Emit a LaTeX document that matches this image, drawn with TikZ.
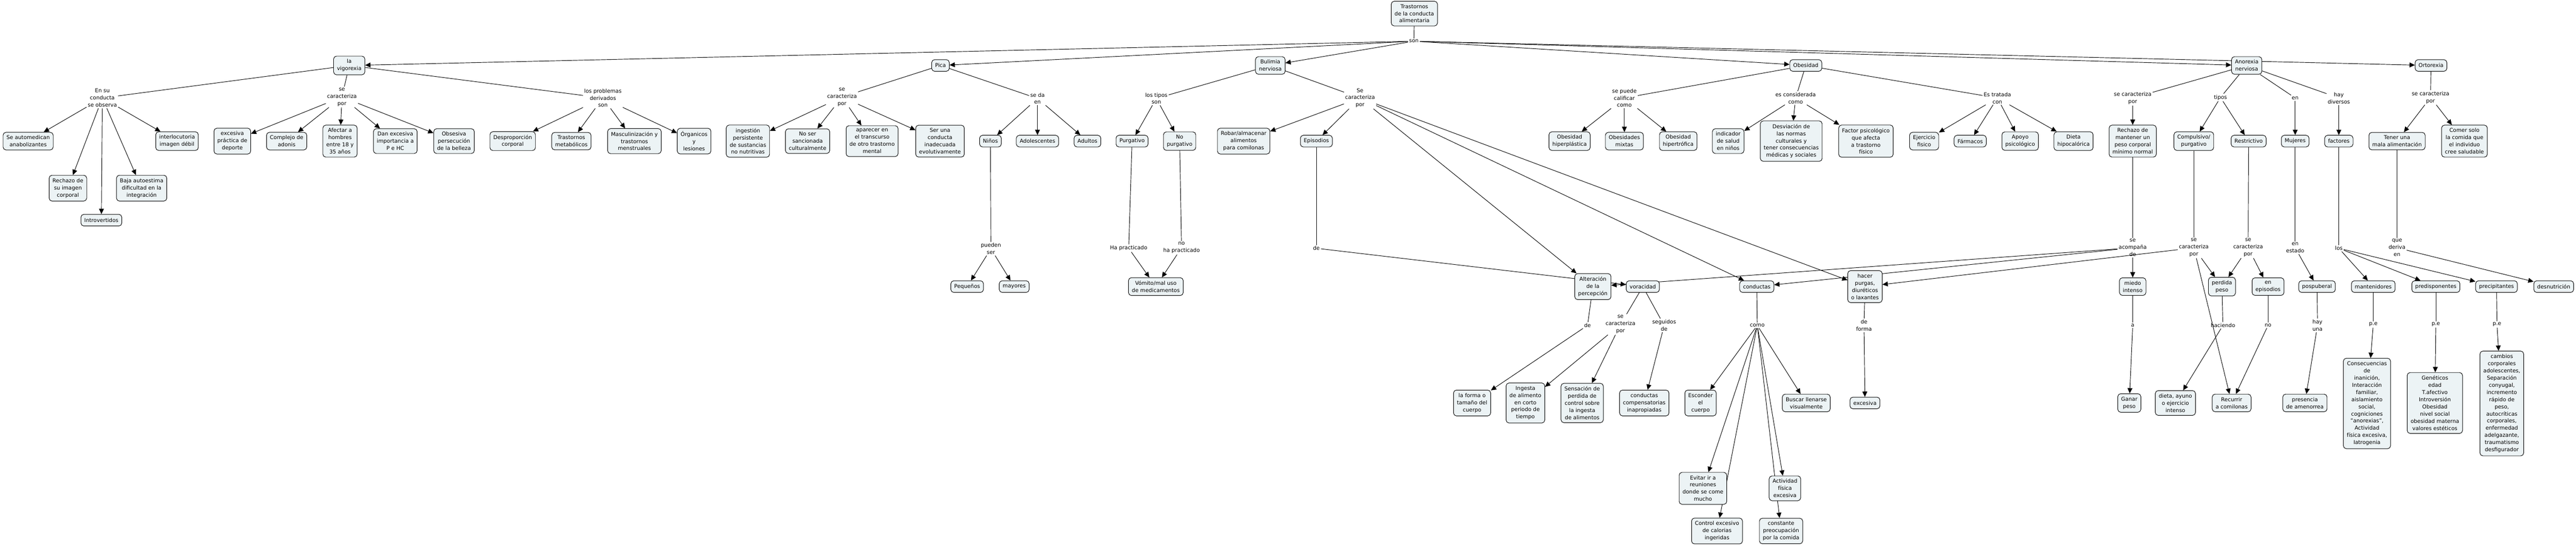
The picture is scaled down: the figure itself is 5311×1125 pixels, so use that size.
\documentclass[tikz,border=0pt]{standalone}
\usepackage{fontspec}
\setmainfont{DejaVu Sans}
\usetikzlibrary{arrows.meta,backgrounds}
\definecolor{cmapfill}{RGB}{236,243,245}
\newcommand{\cmapfont}{\fontsize{11}{14.8}\selectfont}

\begin{document}
\begin{tikzpicture}[x=1pt,y=-1pt,
    concept/.style={draw,line width=1pt,rounded corners=6pt,fill=cmapfill,align=center,
      inner xsep=7pt,inner ysep=6.5pt,minimum height=24pt,font=\cmapfont},
    phrase/.style={align=center,inner sep=2pt,font=\cmapfont},
    >={Triangle[length=11pt,width=10pt]},
    every path/.style={line width=1pt}]
  \useasboundingbox (0,0) rectangle (5311,1125);

  \node[concept] (top) at (2916,28) {Trastornos\\de la conducta\\alimentaria};
  \node[phrase] (son) at (2915,85) {son};

  \node[concept] (vig) at (720,135) {la\\vigorexia};
  \node[concept] (pica) at (1939,135) {Pica};
  \node[concept] (bul) at (2619,135) {Bulimia\\nerviosa};
  \node[concept] (obe) at (3723,135) {Obesidad};
  \node[concept] (ano) at (4632,135) {Anorexia\\nerviosa};
  \node[concept] (orto) at (5012,135) {Ortorexia};

  \node[phrase] (lvobs) at (211,202) {En su\\conducta\\se observa};
  \node[phrase] (lvcar) at (705,200) {se\\caracteriza\\por};
  \node[phrase] (lvpro) at (1243,202) {los problemas\\derivados\\son};
  \node[phrase] (lpcar) at (1736,200) {se\\caracteriza\\por};
  \node[phrase] (lpda) at (2139,203) {se da\\en};
  \node[phrase] (lbtip) at (2384,203) {los tipos\\son};
  \node[phrase] (lbcar) at (2804,202) {Se\\caracteriza\\por};
  \node[phrase] (local) at (3349,202) {se puede\\calificar\\como};
  \node[phrase] (locon) at (3702,202) {es considerada\\como};
  \node[phrase] (lotra) at (4118,202) {Es tratada\\con};
  \node[phrase] (lacar) at (4397,202) {se caracteriza\\por};
  \node[phrase] (latip) at (4578,201) {tipos};
  \node[phrase] (laen) at (4732,202) {en};
  \node[phrase] (lahay) at (4822,202) {hay\\diversos};
  \node[phrase] (locar) at (5011,201) {se caracteriza\\por};

  \node[concept] (automed) at (58,291) {Se automedican\\anabolizantes};
  \node[concept] (interloc) at (365,291) {interlocutoria\\imagen débil};
  \node[concept] (rechimg) at (140,388) {Rechazo de\\su imagen\\corporal};
  \node[concept] (baja) at (292,388) {Baja autoestima\\dificultad en la\\integración};
  \node[concept] (introv) at (209,454) {Introvertidos};
  \node[concept] (depor) at (479,291) {excesiva\\práctica de\\deporte};
  \node[concept] (adonis) at (591,291) {Complejo de\\adonis};
  \node[concept] (hombres) at (701,291) {Afectar a\\hombres\\entre 18 y\\35 años};
  \node[concept] (impor) at (815,291) {Dan excesiva\\importancia a\\P e HC};
  \node[concept] (belleza) at (936,291) {Obsesiva\\persecución\\de la belleza};
  \node[concept] (despro) at (1057,291) {Desproporción\\corporal};
  \node[concept] (metab) at (1178,291) {Trastornos\\metabólicos};
  \node[concept] (mascu) at (1308,291) {Masculinización y\\trastornos\\menstruales};
  \node[concept] (organ) at (1431,291) {Órganicos\\y\\lesiones};
  \node[concept] (ingest) at (1542,291) {ingestión\\persistente\\de sustancias\\no nutritivas};
  \node[concept] (sancion) at (1665,291) {No ser\\sancionada\\culturalmente};
  \node[concept] (aparec) at (1798,291) {aparecer en\\el transcurso\\de otro trastorno\\mental};
  \node[concept] (evolut) at (1938,291) {Ser una\\conducta\\inadecuada\\evolutivamente};
  \node[concept] (ninos) at (2042,291) {Niños};
  \node[concept] (adoles) at (2139,291) {Adolescentes};
  \node[concept] (adultos) at (2242,291) {Adultos};
  \node[concept] (purg) at (2334,291) {Purgativo};
  \node[concept] (nopurg) at (2432,291) {No\\purgativo};
  \node[concept] (robar) at (2564,291) {Robar/almacenar\\alimentos\\para comilonas};
  \node[concept] (episod) at (2714,291) {Episodios};
  \node[concept] (hiperp) at (3236,291) {Obesidad\\hiperplástica};
  \node[concept] (mixtas) at (3349,291) {Obesidades\\mixtas};
  \node[concept] (hipert) at (3460,291) {Obesidad\\hipertrófica};
  \node[concept] (indic) at (3563,291) {indicador\\de salud\\en niños};
  \node[concept] (desv) at (3693,291) {Desviación de\\las normas\\culturales y\\tener consecuencias\\médicas y sociales};
  \node[concept] (factps) at (3847,291) {Factor psicológico\\que afecta\\a trastorno\\físico};
  \node[concept] (ejerc) at (3967,291) {Ejercicio\\fisico};
  \node[concept] (farm) at (4062,291) {Fármacos};
  \node[concept] (apoyo) at (4165,291) {Apoyo\\psicológico};
  \node[concept] (dieta) at (4275,291) {Dieta\\hipocalórica};
  \node[concept] (rechpeso) at (4397,291) {Rechazo de\\mantener un\\peso corporal\\mínimo normal};
  \node[concept] (compul) at (4523,291) {Compulsivo/\\purgativo};
  \node[concept] (restr) at (4636,291) {Restrictivo};
  \node[concept] (mujer) at (4732,291) {Mujeres};
  \node[concept] (factor) at (4822,291) {factores};
  \node[concept] (malal) at (4942,291) {Tener una\\mala alimentación};
  \node[concept] (comer) at (5081,291) {Comer solo\\la comida que\\el individuo\\cree saludable};

  \node[phrase] (lnser) at (2043,513) {pueden\\ser};
  \node[phrase] (lhap) at (2327,512) {Ha practicado};
  \node[phrase] (lnhap) at (2436,511) {no\\ha practicado};
  \node[phrase] (lepde) at (2714,512) {de};
  \node[phrase] (lacom) at (4397,511) {se\\acompaña\\de};
  \node[phrase] (lcomp) at (4523,511) {se\\caracteriza\\por};
  \node[phrase] (lrest) at (4635,511) {se\\caracteriza\\por};
  \node[phrase] (lest) at (4732,511) {en\\estado};
  \node[phrase] (llos) at (4822,512) {los};
  \node[phrase] (lder) at (4942,511) {que\\deriva\\en};

  \node[concept] (peque) at (1994,591) {Pequeños};
  \node[concept] (mayor) at (2091,591) {mayores};
  \node[concept] (vomito) at (2383,591) {Vómito/mal uso\\de medicamentos};
  \node[concept] (alter) at (3284,591) {Alteración\\de la\\percepción};
  \node[concept] (vorac) at (3387,591) {voracidad};
  \node[concept] (conduc) at (3622,591) {conductas};
  \node[concept] (purgas) at (3845,591) {hacer\\purgas,\\diuréticos\\o laxantes};
  \node[concept] (miedo) at (4397,591) {miedo\\intenso};
  \node[concept] (perdida) at (4581,591) {perdida\\peso};
  \node[concept] (enepis) at (4676,591) {en\\episodios};
  \node[concept] (pospub) at (4777,591) {pospuberal};
  \node[concept] (manten) at (4893,591) {mantenidores};
  \node[concept] (predis) at (5022,591) {predisponentes};
  \node[concept] (precip) at (5147,591) {precipitantes};
  \node[concept] (desnut) at (5265,591) {desnutrición};

  \node[phrase] (lalde) at (3273,671) {de};
  \node[phrase] (lvcarb) at (3341,669) {se\\caracteriza\\por};
  \node[phrase] (lvseg) at (3431,671) {seguidos\\de};
  \node[phrase] (lcomo) at (3623,671) {como};
  \node[phrase] (lforma) at (3843,671) {de\\forma};
  \node[phrase] (lamie) at (4397,671) {a};
  \node[phrase] (lhac) at (4583,671) {haciendo};
  \node[phrase] (lno) at (4676,671) {no};
  \node[phrase] (lhay) at (4778,671) {hay\\una};
  \node[phrase] (lpea) at (4893,669) {p.e};
  \node[phrase] (lpeb) at (5022,669) {p.e};
  \node[phrase] (lpec) at (5148,669) {p.e};

  \node[concept] (forma) at (3035,831) {la forma o\\tamaño del\\cuerpo};
  \node[concept] (ingesta) at (3145,831) {Ingesta\\de alimento\\en corto\\periodo de\\tiempo};
  \node[concept] (sensac) at (3262,831) {Sensación de\\perdida de\\control sobre\\la ingesta\\de alimentos};
  \node[concept] (compens) at (3390,831) {conductas\\compensatorias\\inapropiadas};
  \node[concept] (escond) at (3506,831) {Esconder\\el\\cuerpo};
  \node[concept] (buscar) at (3724,831) {Buscar llenarse\\visualmente};
  \node[concept] (excesiva) at (3845,831) {excesiva};
  \node[concept] (ganar) at (4390,831) {Ganar\\peso};
  \node[concept] (dayuno) at (4485,831) {dieta, ayuno\\o ejercicio\\intenso};
  \node[concept] (recurrir) at (4601,831) {Recurrir\\a comilonas};
  \node[concept] (amenor) at (4752,831) {presencia\\de amenorrea};
  \node[concept] (consec) at (4880,832) {Consecuencias\\de\\inanición,\\Interacción\\familiar,\\aislamiento\\social,\\cogniciones\\"anorexias",\\Actividad\\física excesiva,\\Iatrogenia};
  \node[concept] (genet) at (5020,831) {Genéticos\\edad\\T.afectivo\\Introversión\\Obesidad\\nivel social\\obesidad materna\\valores estéticos};
  \node[concept] (cambios) at (5158,832) {cambios\\corporales\\adolescentes,\\Separación\\conyugal,\\incremento\\rápido de\\peso,\\autocríticas\\corporales,\\enfermedad\\adelgazante,\\traumatismo\\desfigurador};

  \node[concept] (evitar) at (3511,1007) {Evitar ir a\\reuniones\\donde se come\\mucho};
  \node[concept] (activ) at (3680,1007) {Actividad\\física\\excesiva};
  \node[concept] (control) at (3540,1095) {Control excesivo\\de calorias\\ingeridas};
  \node[concept] (constante) at (3672,1095) {constante\\preocupación\\por la comida};

  \begin{scope}[on background layer]
    \fill[white] (0,0) rectangle (5311,1125);

    \draw (top) -- (son);
    \draw[->] (son) -- (vig);
    \draw[->] (son) -- (pica);
    \draw[->] (son) -- (bul);
    \draw[->] (son) -- (obe);
    \draw[->] (son) -- (ano);
    \draw[->] (son) -- (orto);

    \draw (vig) -- (lvobs);
    \draw (vig) -- (lvcar);
    \draw (vig) -- (lvpro);
    \draw[->] (lvobs) -- (automed);
    \draw[->] (lvobs) -- (rechimg);
    \draw[->] (lvobs) -- (introv);
    \draw[->] (lvobs) -- (baja);
    \draw[->] (lvobs) -- (interloc);
    \draw[->] (lvcar) -- (depor);
    \draw[->] (lvcar) -- (adonis);
    \draw[->] (lvcar) -- (hombres);
    \draw[->] (lvcar) -- (impor);
    \draw[->] (lvcar) -- (belleza);
    \draw[->] (lvpro) -- (despro);
    \draw[->] (lvpro) -- (metab);
    \draw[->] (lvpro) -- (mascu);
    \draw[->] (lvpro) -- (organ);

    \draw (pica) -- (lpcar);
    \draw (pica) -- (lpda);
    \draw[->] (lpcar) -- (ingest);
    \draw[->] (lpcar) -- (sancion);
    \draw[->] (lpcar) -- (aparec);
    \draw[->] (lpcar) -- (evolut);
    \draw[->] (lpda) -- (ninos);
    \draw[->] (lpda) -- (adoles);
    \draw[->] (lpda) -- (adultos);
    \draw (ninos) -- (lnser);
    \draw[->] (lnser) -- (peque);
    \draw[->] (lnser) -- (mayor);

    \draw (bul) -- (lbtip);
    \draw (bul) -- (lbcar);
    \draw[->] (lbtip) -- (purg);
    \draw[->] (lbtip) -- (nopurg);
    \draw (purg) -- (lhap);
    \draw (nopurg) -- (lnhap);
    \draw[->] (lhap) -- (vomito);
    \draw[->] (lnhap) -- (vomito);
    \draw[->] (lbcar) -- (robar);
    \draw[->] (lbcar) -- (episod);
    \draw[->] (lbcar) -- (alter);
    \draw[->] (lbcar) -- (conduc);
    \draw[->] (lbcar) -- (purgas);
    \draw (episod) -- (lepde);
    \draw[->] (lepde) -- (vorac);
    \draw (alter) -- (lalde);
    \draw[->] (lalde) -- (forma);
    \draw (vorac) -- (lvcarb);
    \draw (vorac) -- (lvseg);
    \draw[->] (lvcarb) -- (ingesta);
    \draw[->] (lvcarb) -- (sensac);
    \draw[->] (lvseg) -- (compens);
    \draw (conduc) -- (lcomo);
    \draw[->] (lcomo) -- (escond);
    \draw[->] (lcomo) -- (evitar);
    \draw[->] (lcomo) -- (control);
    \draw[->] (lcomo) -- (activ);
    \draw[->] (lcomo) -- (constante);
    \draw[->] (lcomo) -- (buscar);
    \draw (purgas) -- (lforma);
    \draw[->] (lforma) -- (excesiva);

    \draw (obe) -- (local);
    \draw (obe) -- (locon);
    \draw (obe) -- (lotra);
    \draw[->] (local) -- (hiperp);
    \draw[->] (local) -- (mixtas);
    \draw[->] (local) -- (hipert);
    \draw[->] (locon) -- (indic);
    \draw[->] (locon) -- (desv);
    \draw[->] (locon) -- (factps);
    \draw[->] (lotra) -- (ejerc);
    \draw[->] (lotra) -- (farm);
    \draw[->] (lotra) -- (apoyo);
    \draw[->] (lotra) -- (dieta);

    \draw (ano) -- (lacar);
    \draw (ano) -- (latip);
    \draw (ano) -- (laen);
    \draw (ano) -- (lahay);
    \draw[->] (lacar) -- (rechpeso);
    \draw[->] (latip) -- (compul);
    \draw[->] (latip) -- (restr);
    \draw[->] (laen) -- (mujer);
    \draw[->] (lahay) -- (factor);
    \draw (rechpeso) -- (lacom);
    \draw[->] (lacom) -- (miedo);
    \draw[->] (lacom) -- (alter);
    \draw[->] (lacom) -- (conduc);
    \draw (miedo) -- (lamie);
    \draw[->] (lamie) -- (ganar);
    \draw (compul) -- (lcomp);
    \draw[->] (lcomp) -- (purgas);
    \draw[->] (lcomp) -- (perdida);
    \draw[->] (lcomp) -- (recurrir);
    \draw (restr) -- (lrest);
    \draw[->] (lrest) -- (perdida);
    \draw[->] (lrest) -- (enepis);
    \draw (perdida) -- (lhac);
    \draw[->] (lhac) -- (dayuno);
    \draw (enepis) -- (lno);
    \draw[->] (lno) -- (recurrir);
    \draw (mujer) -- (lest);
    \draw[->] (lest) -- (pospub);
    \draw (pospub) -- (lhay);
    \draw[->] (lhay) -- (amenor);
    \draw (factor) -- (llos);
    \draw[->] (llos) -- (manten);
    \draw[->] (llos) -- (predis);
    \draw[->] (llos) -- (precip);
    \draw (manten) -- (lpea);
    \draw (predis) -- (lpeb);
    \draw (precip) -- (lpec);
    \draw[->] (lpea) -- (consec);
    \draw[->] (lpeb) -- (genet);
    \draw[->] (lpec) -- (cambios);

    \draw (orto) -- (locar);
    \draw[->] (locar) -- (malal);
    \draw[->] (locar) -- (comer);
    \draw (malal) -- (lder);
    \draw[->] (lder) -- (desnut);
  \end{scope}
\end{tikzpicture}
\end{document}
